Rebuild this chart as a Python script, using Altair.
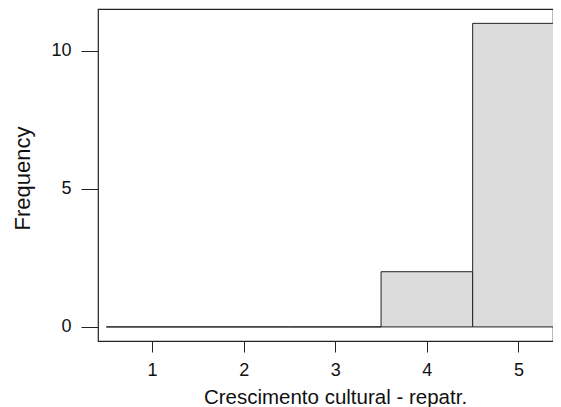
import altair as alt
import pandas as pd

bin_start = [0.5, 1.5, 2.5, 3.5, 4.5]
bin_end = [1.5, 2.5, 3.5, 4.5, 5.5]
counts = [0, 0, 0, 2, 11]
x_ticks = [1, 2, 3, 4, 5]
y_ticks = [0, 5, 10]

df = pd.DataFrame({"start": bin_start, "end": bin_end, "count": counts})

FONT = "Liberation Sans"

chart = alt.Chart(df).mark_rect(
    fill="#dcdcdc", stroke="#222222", strokeWidth=1, clip=True
).encode(
    x=alt.X("start:Q",
            scale=alt.Scale(domain=[0.41, 5.377], nice=False, zero=False),
            axis=alt.Axis(values=x_ticks, title="Crescimento cultural - repatr.",
                          domain=False, grid=False, tickSize=11, tickColor="#222222",
                          labelPadding=9, labelFontSize=18, labelFont=FONT, labelColor="#111111",
                          titleFont=FONT, titleFontSize=20.5, titleFontWeight="normal",
                          titleColor="#111111", titleX=237, titleY=56,
                          titleAlign="center", titleBaseline="middle")),
    x2="end:Q",
    y=alt.Y("count:Q",
            scale=alt.Scale(domain=[-0.51, 11.52], nice=False, zero=False),
            axis=alt.Axis(values=y_ticks, title="Frequency", domain=False, grid=False,
                          tickSize=17, tickColor="#222222", labelPadding=10,
                          labelFontSize=18, labelFont=FONT, labelColor="#111111",
                          titleFont=FONT, titleFontSize=22, titleFontWeight="normal",
                          titleColor="#111111", titleX=-76, titleY=169,
                          titleAlign="center", titleBaseline="middle")),
    y2=alt.datum(0),
).properties(
    width=455, height=332,
    autosize=alt.AutoSizeParams(type="none"),
    padding={"left": 90, "top": 1, "right": 0, "bottom": 66},
).configure(background="white").configure_view(stroke="#222222", strokeWidth=1.2)

chart.save("out.html", embed_options={"renderer": "svg", "actions": False})
